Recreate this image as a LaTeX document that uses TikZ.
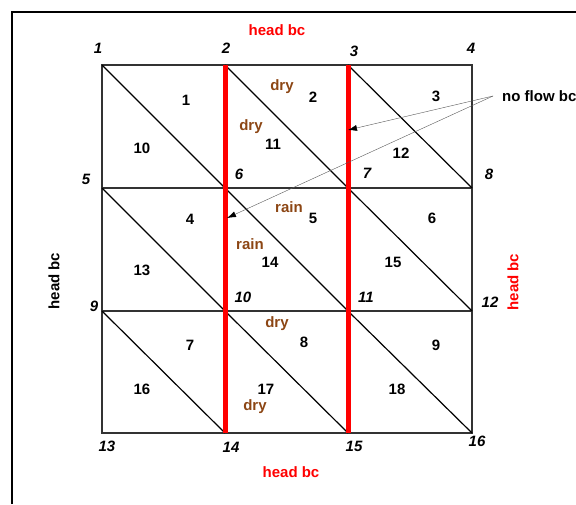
\documentclass[tikz,border=0pt]{standalone}
\usepackage{fontspec}
\setmainfont{Liberation Sans}
\usetikzlibrary{arrows.meta}
\definecolor{soil}{RGB}{140,70,20}
\begin{document}
\begin{tikzpicture}[x=1pt, y=-1pt,
    every node/.style={font=\fontsize{15}{17}\selectfont\bfseries, inner sep=0pt},
    vlabel/.style={font=\fontsize{15}{17}\selectfont\bfseries\itshape},
    wet/.style={text=soil},
    bc/.style={text=red}]
    \useasboundingbox (0,0) rectangle (576,504);
    % Draw the frame
    \draw[line width=2pt] (12,504) -- (12,12) -- (576,12);

    % Mesh vertices
    \foreach \i/\x/\y in {
        1/102/65, 2/225/65, 3/348/65, 4/472/65,
        5/102/188, 6/225/188, 7/348/188, 8/472/188,
        9/102/311, 10/225/311, 11/348/311, 12/472/311,
        13/102/433, 14/225/433, 15/348/433, 16/472/433
    } {
        \coordinate (n\i) at (\x,\y);
    }

    % Draw the grid and the diagonals
    \draw[black!80, line width=1.6pt] (n1) rectangle (n16);
    \draw[black!80, line width=1.6pt] (n5) -- (n8) (n9) -- (n12) (n2) -- (n14) (n3) -- (n15);
    \foreach \a/\b in {1/6, 2/7, 3/8, 5/10, 6/11, 7/12, 9/14, 10/15, 11/16} {
        \draw[line width=1.2pt] (n\a) -- (n\b);
    }

    % Draw the red lines
    \draw[red, line width=5pt] (n2) -- (n14);
    \draw[red, line width=5pt] (n3) -- (n15);

    % Vertex numbers
    \foreach \i/\x/\y in {
        1/98/48, 2/226/48, 3/354/51, 4/471/48,
        5/86/179, 6/239/174, 7/367/173, 8/489/174,
        9/94/306, 10/243/297, 11/366/297, 12/490/302,
        13/107/446, 14/231/447, 15/354/446, 16/477/441
    } {
        \node[vlabel] (v\i) at (\x,\y) {\i};
    }

    % Element numbers
    \foreach \e/\x/\y in {
        1/186/100, 2/313/97, 3/436/96, 10/142/148, 11/273/144, 12/401/153,
        4/190/219, 5/313/218, 6/432/218, 13/142/270, 14/270/262, 15/393/262,
        7/190/345, 8/304/342, 9/436/345, 16/142/389, 17/266/389, 18/397/389
    } {
        \node (e\e) at (\x,\y) {\e};
    }

    % Dry and rain
    \node[wet] (dryA) at (282,87) {dry};
    \node[wet] (dryB) at (251,127) {dry};
    \node[wet] (rainA) at (289,207) {rain};
    \node[wet] (rainB) at (250,244) {rain};
    \node[wet] (dryC) at (277,324) {dry};
    \node[wet] (dryD) at (255,407) {dry};

    % Boundary conditions
    \node[bc] (bctop) at (277,30) {head bc};
    \node[bc] (bcbot) at (291,472) {head bc};
    \node[rotate=90] (bcleft) at (54,281) {head bc};
    \node[bc, rotate=90] (bcright) at (513,282) {head bc};
    \node[anchor=west] (noflow) at (502,96) {no flow bc};

    \coordinate (nfA) at (348,130);
    \coordinate (nfB) at (227,218);
    \draw[-{Latex[color=black, length=9pt, width=6pt]}, gray!70!black, thin] ([xshift=-9pt]noflow.west) -- (nfA);
    \draw[-{Latex[color=black, length=9pt, width=6pt]}, gray!70!black, thin] ([xshift=-9pt]noflow.west) -- (nfB);
\end{tikzpicture}
\end{document}
